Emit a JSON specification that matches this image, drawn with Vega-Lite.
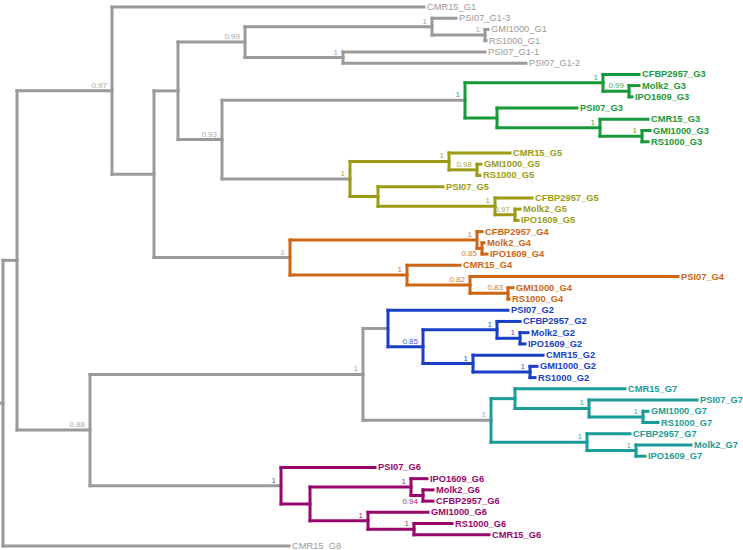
{
  "$schema": "https://vega.github.io/schema/vega-lite/v6.json",
  "width": 743,
  "height": 550,
  "autosize": "none",
  "padding": 0,
  "background": "white",
  "config": {"view": {"stroke": null}},
  "datasets": {
    "hz": [
      {"x":0,"x2":3,"y":35.28,"c":"G1"},
      {"x":3,"x2":17,"y":22.56,"c":"G1"},
      {"x":3,"x2":289,"y":48,"c":"G1"},
      {"x":17,"x2":112,"y":7.45,"c":"G1"},
      {"x":17,"x2":90,"y":37.67,"c":"G1"},
      {"x":112,"x2":424,"y":0,"c":"G1"},
      {"x":112,"x2":154,"y":14.89,"c":"G1"},
      {"x":154,"x2":178,"y":7.47,"c":"G1"},
      {"x":154,"x2":290,"y":22.31,"c":"G1"},
      {"x":178,"x2":245,"y":3.125,"c":"G1"},
      {"x":178,"x2":222,"y":11.81,"c":"G1"},
      {"x":245,"x2":432,"y":1.75,"c":"G1"},
      {"x":245,"x2":343,"y":4.5,"c":"G1"},
      {"x":432,"x2":456,"y":1,"c":"G1"},
      {"x":432,"x2":485,"y":2.5,"c":"G1"},
      {"x":485,"x2":488,"y":2,"c":"G1"},
      {"x":485,"x2":486,"y":3,"c":"G1"},
      {"x":343,"x2":485,"y":4,"c":"G1"},
      {"x":343,"x2":526,"y":5,"c":"G1"},
      {"x":222,"x2":465,"y":8.31,"c":"G1"},
      {"x":222,"x2":350,"y":15.31,"c":"G1"},
      {"x":465,"x2":603,"y":6.75,"c":"G3"},
      {"x":465,"x2":497,"y":9.875,"c":"G3"},
      {"x":603,"x2":639,"y":6,"c":"G3"},
      {"x":603,"x2":629,"y":7.5,"c":"G3"},
      {"x":629,"x2":639,"y":7,"c":"G3"},
      {"x":629,"x2":632,"y":8,"c":"G3"},
      {"x":497,"x2":577,"y":9,"c":"G3"},
      {"x":497,"x2":600,"y":10.75,"c":"G3"},
      {"x":600,"x2":648,"y":10,"c":"G3"},
      {"x":600,"x2":642,"y":11.5,"c":"G3"},
      {"x":642,"x2":650,"y":11,"c":"G3"},
      {"x":642,"x2":648,"y":12,"c":"G3"},
      {"x":350,"x2":449,"y":13.75,"c":"G5"},
      {"x":350,"x2":378,"y":16.875,"c":"G5"},
      {"x":449,"x2":510,"y":13,"c":"G5"},
      {"x":449,"x2":477,"y":14.5,"c":"G5"},
      {"x":477,"x2":481,"y":14,"c":"G5"},
      {"x":477,"x2":480,"y":15,"c":"G5"},
      {"x":378,"x2":443,"y":16,"c":"G5"},
      {"x":378,"x2":495,"y":17.75,"c":"G5"},
      {"x":495,"x2":532,"y":17,"c":"G5"},
      {"x":495,"x2":515,"y":18.5,"c":"G5"},
      {"x":515,"x2":520,"y":18,"c":"G5"},
      {"x":515,"x2":518,"y":19,"c":"G5"},
      {"x":290,"x2":477,"y":20.75,"c":"G4"},
      {"x":290,"x2":407,"y":23.875,"c":"G4"},
      {"x":477,"x2":482,"y":20,"c":"G4"},
      {"x":477,"x2":482,"y":21.5,"c":"G4"},
      {"x":482,"x2":484,"y":21,"c":"G4"},
      {"x":482,"x2":487,"y":22,"c":"G4"},
      {"x":407,"x2":460,"y":23,"c":"G4"},
      {"x":407,"x2":470,"y":24.75,"c":"G4"},
      {"x":470,"x2":678,"y":24,"c":"G4"},
      {"x":470,"x2":508,"y":25.5,"c":"G4"},
      {"x":508,"x2":513,"y":25,"c":"G4"},
      {"x":508,"x2":509,"y":26,"c":"G4"},
      {"x":90,"x2":363,"y":32.72,"c":"G1"},
      {"x":363,"x2":388,"y":28.625,"c":"G1"},
      {"x":363,"x2":491,"y":36.81,"c":"G1"},
      {"x":90,"x2":281,"y":42.625,"c":"G1"},
      {"x":388,"x2":508,"y":27,"c":"G2"},
      {"x":388,"x2":423,"y":30.25,"c":"G2"},
      {"x":423,"x2":497,"y":28.75,"c":"G2"},
      {"x":423,"x2":473,"y":31.75,"c":"G2"},
      {"x":497,"x2":520,"y":28,"c":"G2"},
      {"x":497,"x2":520,"y":29.5,"c":"G2"},
      {"x":520,"x2":528,"y":29,"c":"G2"},
      {"x":520,"x2":525,"y":30,"c":"G2"},
      {"x":473,"x2":543,"y":31,"c":"G2"},
      {"x":473,"x2":530,"y":32.5,"c":"G2"},
      {"x":530,"x2":537,"y":32,"c":"G2"},
      {"x":530,"x2":535,"y":33,"c":"G2"},
      {"x":491,"x2":515,"y":34.875,"c":"G7"},
      {"x":491,"x2":587,"y":38.75,"c":"G7"},
      {"x":515,"x2":625,"y":34,"c":"G7"},
      {"x":515,"x2":589,"y":35.75,"c":"G7"},
      {"x":589,"x2":697,"y":35,"c":"G7"},
      {"x":589,"x2":643,"y":36.5,"c":"G7"},
      {"x":643,"x2":648,"y":36,"c":"G7"},
      {"x":643,"x2":658,"y":37,"c":"G7"},
      {"x":587,"x2":630,"y":38,"c":"G7"},
      {"x":587,"x2":636,"y":39.5,"c":"G7"},
      {"x":636,"x2":691,"y":39,"c":"G7"},
      {"x":636,"x2":645,"y":40,"c":"G7"},
      {"x":281,"x2":375,"y":41,"c":"G6"},
      {"x":281,"x2":310,"y":44.25,"c":"G6"},
      {"x":310,"x2":411,"y":42.75,"c":"G6"},
      {"x":310,"x2":368,"y":45.75,"c":"G6"},
      {"x":411,"x2":427,"y":42,"c":"G6"},
      {"x":411,"x2":423,"y":43.5,"c":"G6"},
      {"x":423,"x2":433,"y":43,"c":"G6"},
      {"x":423,"x2":433,"y":44,"c":"G6"},
      {"x":368,"x2":428,"y":45,"c":"G6"},
      {"x":368,"x2":414,"y":46.5,"c":"G6"},
      {"x":414,"x2":452,"y":46,"c":"G6"},
      {"x":414,"x2":489,"y":47,"c":"G6"}
    ],
    "vt": [
      {"x":3,"y":22.56,"y2":48,"c":"G1"},
      {"x":17,"y":7.45,"y2":37.67,"c":"G1"},
      {"x":112,"y":0,"y2":14.89,"c":"G1"},
      {"x":154,"y":7.47,"y2":22.31,"c":"G1"},
      {"x":178,"y":3.125,"y2":11.81,"c":"G1"},
      {"x":245,"y":1.75,"y2":4.5,"c":"G1"},
      {"x":432,"y":1,"y2":2.5,"c":"G1"},
      {"x":485,"y":2,"y2":3,"c":"G1"},
      {"x":343,"y":4,"y2":5,"c":"G1"},
      {"x":222,"y":8.31,"y2":15.31,"c":"G1"},
      {"x":465,"y":6.75,"y2":9.875,"c":"G3"},
      {"x":603,"y":6,"y2":7.5,"c":"G3"},
      {"x":629,"y":7,"y2":8,"c":"G3"},
      {"x":497,"y":9,"y2":10.75,"c":"G3"},
      {"x":600,"y":10,"y2":11.5,"c":"G3"},
      {"x":642,"y":11,"y2":12,"c":"G3"},
      {"x":350,"y":13.75,"y2":16.875,"c":"G5"},
      {"x":449,"y":13,"y2":14.5,"c":"G5"},
      {"x":477,"y":14,"y2":15,"c":"G5"},
      {"x":378,"y":16,"y2":17.75,"c":"G5"},
      {"x":495,"y":17,"y2":18.5,"c":"G5"},
      {"x":515,"y":18,"y2":19,"c":"G5"},
      {"x":290,"y":20.75,"y2":23.875,"c":"G4"},
      {"x":477,"y":20,"y2":21.5,"c":"G4"},
      {"x":482,"y":21,"y2":22,"c":"G4"},
      {"x":407,"y":23,"y2":24.75,"c":"G4"},
      {"x":470,"y":24,"y2":25.5,"c":"G4"},
      {"x":508,"y":25,"y2":26,"c":"G4"},
      {"x":363,"y":28.625,"y2":36.81,"c":"G1"},
      {"x":90,"y":32.72,"y2":42.625,"c":"G1"},
      {"x":388,"y":27,"y2":30.25,"c":"G2"},
      {"x":423,"y":28.75,"y2":31.75,"c":"G2"},
      {"x":497,"y":28,"y2":29.5,"c":"G2"},
      {"x":520,"y":29,"y2":30,"c":"G2"},
      {"x":473,"y":31,"y2":32.5,"c":"G2"},
      {"x":530,"y":32,"y2":33,"c":"G2"},
      {"x":491,"y":34.875,"y2":38.75,"c":"G7"},
      {"x":515,"y":34,"y2":35.75,"c":"G7"},
      {"x":589,"y":35,"y2":36.5,"c":"G7"},
      {"x":643,"y":36,"y2":37,"c":"G7"},
      {"x":587,"y":38,"y2":39.5,"c":"G7"},
      {"x":636,"y":39,"y2":40,"c":"G7"},
      {"x":281,"y":41,"y2":44.25,"c":"G6"},
      {"x":310,"y":42.75,"y2":45.75,"c":"G6"},
      {"x":411,"y":42,"y2":43.5,"c":"G6"},
      {"x":423,"y":43,"y2":44,"c":"G6"},
      {"x":368,"y":45,"y2":46.5,"c":"G6"},
      {"x":414,"y":46,"y2":47,"c":"G6"}
    ],
    "tips": [
      {"name":"CMR15_G1","x":424,"y":0,"c":"G1"},
      {"name":"PSI07_G1-3","x":456,"y":1,"c":"G1"},
      {"name":"GMI1000_G1","x":488,"y":2,"c":"G1"},
      {"name":"RS1000_G1","x":486,"y":3,"c":"G1"},
      {"name":"PSI07_G1-1","x":485,"y":4,"c":"G1"},
      {"name":"PSI07_G1-2","x":526,"y":5,"c":"G1"},
      {"name":"CFBP2957_G3","x":639,"y":6,"c":"G3"},
      {"name":"Molk2_G3","x":639,"y":7,"c":"G3"},
      {"name":"IPO1609_G3","x":632,"y":8,"c":"G3"},
      {"name":"PSI07_G3","x":577,"y":9,"c":"G3"},
      {"name":"CMR15_G3","x":648,"y":10,"c":"G3"},
      {"name":"GMI1000_G3","x":650,"y":11,"c":"G3"},
      {"name":"RS1000_G3","x":648,"y":12,"c":"G3"},
      {"name":"CMR15_G5","x":510,"y":13,"c":"G5"},
      {"name":"GMI1000_G5","x":481,"y":14,"c":"G5"},
      {"name":"RS1000_G5","x":480,"y":15,"c":"G5"},
      {"name":"PSI07_G5","x":443,"y":16,"c":"G5"},
      {"name":"CFBP2957_G5","x":532,"y":17,"c":"G5"},
      {"name":"Molk2_G5","x":520,"y":18,"c":"G5"},
      {"name":"IPO1609_G5","x":518,"y":19,"c":"G5"},
      {"name":"CFBP2957_G4","x":482,"y":20,"c":"G4"},
      {"name":"Molk2_G4","x":484,"y":21,"c":"G4"},
      {"name":"IPO1609_G4","x":487,"y":22,"c":"G4"},
      {"name":"CMR15_G4","x":460,"y":23,"c":"G4"},
      {"name":"PSI07_G4","x":678,"y":24,"c":"G4"},
      {"name":"GMI1000_G4","x":513,"y":25,"c":"G4"},
      {"name":"RS1000_G4","x":509,"y":26,"c":"G4"},
      {"name":"PSI07_G2","x":508,"y":27,"c":"G2"},
      {"name":"CFBP2957_G2","x":520,"y":28,"c":"G2"},
      {"name":"Molk2_G2","x":528,"y":29,"c":"G2"},
      {"name":"IPO1609_G2","x":525,"y":30,"c":"G2"},
      {"name":"CMR15_G2","x":543,"y":31,"c":"G2"},
      {"name":"GMI1000_G2","x":537,"y":32,"c":"G2"},
      {"name":"RS1000_G2","x":535,"y":33,"c":"G2"},
      {"name":"CMR15_G7","x":625,"y":34,"c":"G7"},
      {"name":"PSI07_G7","x":697,"y":35,"c":"G7"},
      {"name":"GMI1000_G7","x":648,"y":36,"c":"G7"},
      {"name":"RS1000_G7","x":658,"y":37,"c":"G7"},
      {"name":"CFBP2957_G7","x":630,"y":38,"c":"G7"},
      {"name":"Molk2_G7","x":691,"y":39,"c":"G7"},
      {"name":"IPO1609_G7","x":645,"y":40,"c":"G7"},
      {"name":"PSI07_G6","x":375,"y":41,"c":"G6"},
      {"name":"IPO1609_G6","x":427,"y":42,"c":"G6"},
      {"name":"Molk2_G6","x":433,"y":43,"c":"G6"},
      {"name":"CFBP2957_G6","x":433,"y":44,"c":"G6"},
      {"name":"GMI1000_G6","x":428,"y":45,"c":"G6"},
      {"name":"RS1000_G6","x":452,"y":46,"c":"G6"},
      {"name":"CMR15_G6","x":489,"y":47,"c":"G6"},
      {"name":"CMR15_G8","x":289,"y":48,"c":"G1"}
    ],
    "sup": [
      {"x":485,"y":2.5,"s":"1","c":"G1","pos":"above"},
      {"x":432,"y":1.75,"s":"1","c":"G1","pos":"above"},
      {"x":343,"y":4.5,"s":"1","c":"G1","pos":"above"},
      {"x":245,"y":3.125,"s":"0.99","c":"G1","pos":"above"},
      {"x":112,"y":7.45,"s":"0.97","c":"G1","pos":"above"},
      {"x":222,"y":11.81,"s":"0.93","c":"G1","pos":"above"},
      {"x":90,"y":37.67,"s":"0.88","c":"G1","pos":"above"},
      {"x":363,"y":32.72,"s":"1","c":"G1","pos":"above"},
      {"x":465,"y":8.31,"s":"1","c":"G3","pos":"above"},
      {"x":603,"y":6.75,"s":"1","c":"G3","pos":"above"},
      {"x":629,"y":7.5,"s":"0.99","c":"G3","pos":"above"},
      {"x":600,"y":10.75,"s":"1","c":"G3","pos":"above"},
      {"x":642,"y":11.5,"s":"1","c":"G3","pos":"above"},
      {"x":350,"y":15.31,"s":"1","c":"G5","pos":"above"},
      {"x":449,"y":13.75,"s":"1","c":"G5","pos":"above"},
      {"x":477,"y":14.5,"s":"0.98","c":"G5","pos":"above"},
      {"x":495,"y":17.75,"s":"1","c":"G5","pos":"above"},
      {"x":515,"y":18.5,"s":"0.97","c":"G5","pos":"above"},
      {"x":290,"y":22.31,"s":"1","c":"G1","pos":"above"},
      {"x":477,"y":20.75,"s":"1","c":"G4","pos":"above"},
      {"x":482,"y":21.5,"s":"0.85","c":"G4","pos":"below"},
      {"x":407,"y":23.875,"s":"1","c":"G4","pos":"above"},
      {"x":470,"y":24.75,"s":"0.82","c":"G4","pos":"above"},
      {"x":508,"y":25.5,"s":"0.83","c":"G4","pos":"above"},
      {"x":423,"y":30.25,"s":"0.85","c":"G2","pos":"above"},
      {"x":497,"y":28.75,"s":"1","c":"G2","pos":"above"},
      {"x":520,"y":29.5,"s":"1","c":"G2","pos":"above"},
      {"x":473,"y":31.75,"s":"1","c":"G2","pos":"above"},
      {"x":530,"y":32.5,"s":"1","c":"G2","pos":"above"},
      {"x":491,"y":36.81,"s":"1","c":"G1","pos":"above"},
      {"x":589,"y":35.75,"s":"1","c":"G7","pos":"above"},
      {"x":643,"y":36.5,"s":"1","c":"G7","pos":"above"},
      {"x":587,"y":38.75,"s":"1","c":"G7","pos":"above"},
      {"x":636,"y":39.5,"s":"1","c":"G7","pos":"above"},
      {"x":281,"y":42.625,"s":"1","c":"G6","pos":"above"},
      {"x":411,"y":42.75,"s":"1","c":"G6","pos":"above"},
      {"x":423,"y":43.5,"s":"0.94","c":"G6","pos":"below"},
      {"x":368,"y":45.75,"s":"1","c":"G6","pos":"above"},
      {"x":414,"y":46.5,"s":"1","c":"G6","pos":"above"}
    ]
  },
  "encoding": {
    "x": {"field": "x", "type": "quantitative", "axis": null, "scale": {"domain": [0, 743], "nice": false, "zero": false}},
    "y": {"field": "y", "type": "quantitative", "axis": null, "scale": {"domain": [-0.6233, 48.353], "nice": false, "zero": false, "reverse": true}},
    "color": {"field": "c", "type": "nominal", "legend": null, "scale": {"domain": ["G1","G3","G5","G4","G2","G7","G6"], "range": ["#9a9a9a","#189a3c","#9c9c14","#cc6614","#1a3fc4","#1a9c98","#99066b"]}}
  },
  "layer": [
    {
      "data": {"name": "hz"},
      "mark": {"type": "rule", "strokeWidth": 3, "strokeCap": "square"},
      "encoding": {"x2": {"field": "x2"}}
    },
    {
      "data": {"name": "vt"},
      "mark": {"type": "rule", "strokeWidth": 3, "strokeCap": "square"},
      "encoding": {"y2": {"field": "y2"}}
    },
    {
      "data": {"name": "tips"},
      "transform": [{"filter": "datum.c !== 'G1'"}],
      "mark": {"type": "text", "align": "left", "baseline": "middle", "dx": 3, "font": "Liberation Sans", "fontSize": 9.3, "fontWeight": "bold"},
      "encoding": {"text": {"field": "name"}}
    },
    {
      "data": {"name": "tips"},
      "transform": [{"filter": "datum.c === 'G1'"}],
      "mark": {"type": "text", "align": "left", "baseline": "middle", "dx": 3, "font": "Liberation Sans", "fontSize": 9.3},
      "encoding": {"text": {"field": "name"}}
    },
    {
      "data": {"name": "sup"},
      "transform": [{"filter": "datum.pos === 'above'"}],
      "mark": {"type": "text", "align": "right", "baseline": "alphabetic", "dx": -5, "dy": -3, "font": "Liberation Sans", "fontSize": 8, "opacity": 0.85},
      "encoding": {"text": {"field": "s"}}
    },
    {
      "data": {"name": "sup"},
      "transform": [{"filter": "datum.pos === 'below'"}],
      "mark": {"type": "text", "align": "right", "baseline": "top", "dx": -5, "dy": 2, "font": "Liberation Sans", "fontSize": 8, "opacity": 0.85},
      "encoding": {"text": {"field": "s"}}
    }
  ]
}
